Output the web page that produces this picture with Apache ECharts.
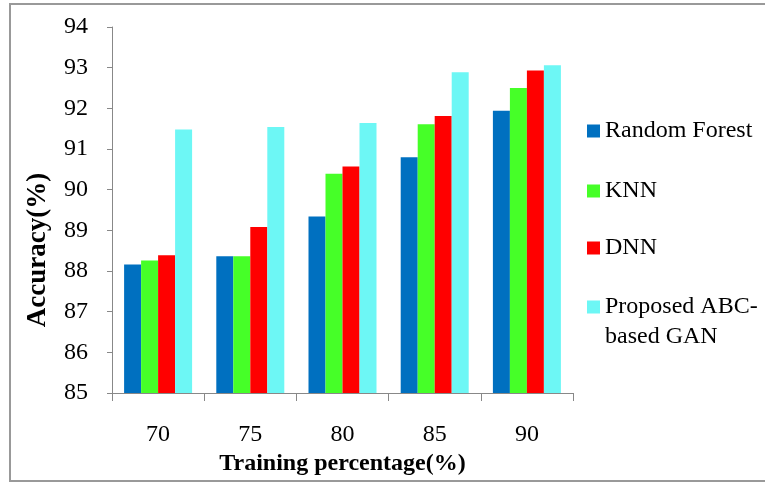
<!DOCTYPE html>
<html>
<head>
<meta charset="utf-8">
<script src="https://cdn.jsdelivr.net/npm/echarts@6/dist/echarts.min.js"></script>
<style>html,body{margin:0;padding:0;background:#fff}#c{width:765px;height:483px}</style>
</head>
<body>
<div id="c"></div>
<script>
const categories = ['70', '75', '80', '85', '90'];
const randomForest = [88.16, 88.36, 89.34, 90.80, 91.94];
const knn = [88.26, 88.36, 90.39, 91.61, 92.50];
const dnn = [88.39, 89.08, 90.57, 91.81, 92.93];
const proposed = [91.48, 91.54, 91.64, 92.89, 93.06];
const seriesNames = ['Random Forest', 'KNN', 'DNN', 'Proposed ABC-based GAN'];
const legendLabels = ['Random Forest', 'KNN', 'DNN', ' \nProposed ABC-\nbased GAN'];
const colors = ['#0070C0', '#46FF28', '#FF0000', '#6DF7F5'];
const yTicks = { min: 85, max: 94, interval: 1 };

const FONT = '"Liberation Serif", "Times New Roman", serif';
const chart = echarts.init(document.getElementById('c'));
const seriesData = [randomForest, knn, dnn, proposed];
const legendTops = [119, 179, 236, 262];

const legends = seriesNames.map((n, i) => ({
  orient: 'vertical',
  left: 587,
  top: legendTops[i],
  padding: 0,
  itemWidth: 13,
  itemHeight: 13,
  icon: 'rect',
  data: [n],
  formatter: () => legendLabels[i],
  textStyle: { fontFamily: FONT, fontSize: 24, color: '#000', lineHeight: i === 3 ? 30 : 24 }
}));

chart.setOption({
  animation: false,
  backgroundColor: '#fff',
  graphic: [{
    type: 'rect',
    shape: { x: 10, y: 4, width: 800, height: 477 },
    style: { fill: 'none', stroke: '#999', lineWidth: 2 },
    silent: true
  }],
  grid: { left: 112, right: 192, top: 27, bottom: 90, containLabel: false, outerBoundsMode: 'none' },
  legend: legends,
  xAxis: {
    type: 'category',
    data: categories,
    name: 'Training percentage(%)',
    nameLocation: 'middle',
    nameGap: 57,
    nameTextStyle: { fontFamily: FONT, fontSize: 24, fontWeight: 'bold', color: '#000' },
    axisLine: { lineStyle: { color: '#888', width: 1 } },
    axisTick: { show: true, alignWithLabel: false, length: 8, lineStyle: { color: '#888' } },
    axisLabel: { fontFamily: FONT, fontSize: 24, color: '#000', margin: 30 },
    splitLine: { show: false }
  },
  yAxis: {
    type: 'value',
    min: yTicks.min,
    max: yTicks.max,
    interval: yTicks.interval,
    name: 'Accuracy(%)',
    nameLocation: 'middle',
    nameGap: 60,
    nameRotate: 90,
    nameTextStyle: { fontFamily: FONT, fontSize: 27, fontWeight: 'bold', color: '#000', padding: [0, 80, 0, 0] },
    axisLine: { show: true, lineStyle: { color: '#888', width: 1 } },
    axisTick: { show: true, length: 5, lineStyle: { color: '#888' } },
    axisLabel: { fontFamily: FONT, fontSize: 24, color: '#000', margin: 24 },
    splitLine: { show: false }
  },
  series: seriesNames.map((n, i) => ({
    name: n,
    type: 'bar',
    data: seriesData[i],
    barWidth: 17,
    barGap: '0%',
    itemStyle: { color: colors[i] }
  }))
});
</script>
</body>
</html>
